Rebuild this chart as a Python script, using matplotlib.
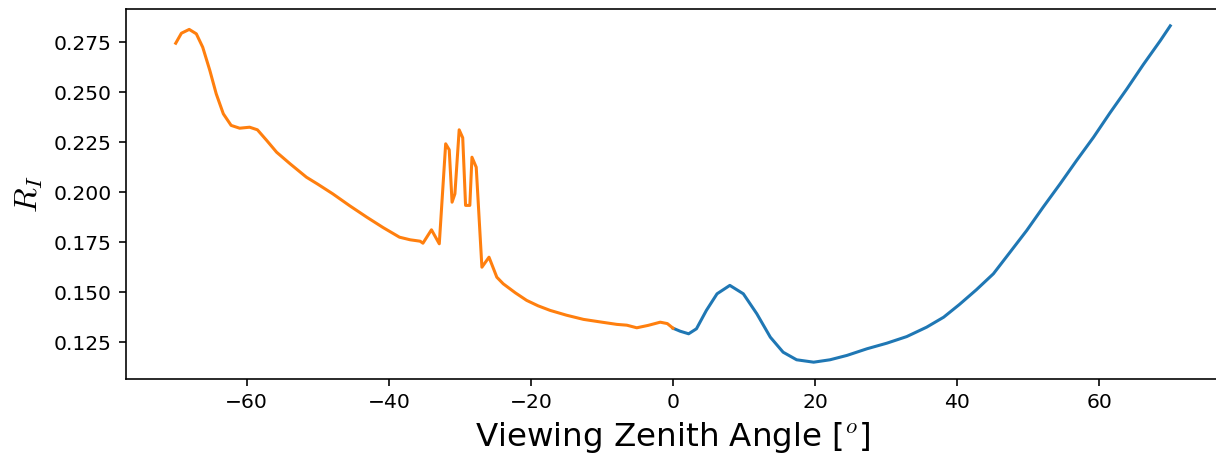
import matplotlib
matplotlib.use('Agg')
from matplotlib import pyplot as plt

# Отрицательные углы (оранжевая кривая)
x_neg = [-70.0, -69.2, -68.1, -67.1, -66.2, -65.2, -64.3, -63.3, -62.2, -61.0, -59.6, -58.5,
         -57.2, -55.8, -53.9, -51.6, -50, -47.9, -45.5, -43.1, -40.8, -38.5, -37,
         -35.6, -35.2, -34.0, -32.9, -32.0, -31.5, -31.1, -30.7, -30.1, -29.6, -29.2, -28.6,
         -28.3, -27.7, -26.9, -25.9, -24.8, -23.9, -22.2, -20.6, -19, -17.3, -15, -12.6,
         -10, -7.9, -6.5, -5.1, -3.5, -1.8, -0.8, 0]
r_neg = [0.2745, 0.2795, 0.2814, 0.2792, 0.2725, 0.2609, 0.2492, 0.2392, 0.2334, 0.2320, 0.2325, 0.2312,
         0.2259, 0.2200, 0.2142, 0.2075, 0.2040, 0.1992, 0.1932, 0.1875, 0.1823, 0.1775, 0.1762,
         0.1755, 0.1745, 0.1812, 0.1742, 0.2242, 0.2212, 0.1950, 0.1992, 0.2312, 0.2272, 0.1934, 0.1934,
         0.2175, 0.2125, 0.1625, 0.1675, 0.1575, 0.1542, 0.1497, 0.1459, 0.1432, 0.1409, 0.1385, 0.1364,
         0.1350, 0.1339, 0.1335, 0.1322, 0.1334, 0.1350, 0.1343, 0.1320]

# Положительные углы (синяя кривая)
x_pos = [0, 1.0, 2.2, 3.3, 4.7, 6.2, 8.0, 9.9, 11.8, 13.7, 15.5, 17.4, 19.8, 22.1, 24.5,
         27.3, 30.1, 32.9, 35.7, 38.1, 40.3, 42.7, 45.1, 47.4, 49.8, 52.1, 54.5, 56.8,
         59.2, 61.5, 63.9, 66.2, 68.6, 70]
r_pos = [0.1320, 0.1305, 0.1292, 0.1317, 0.1409, 0.1492, 0.1534, 0.1492, 0.1392, 0.1275, 0.1200,
         0.1162, 0.1150, 0.1162, 0.1184, 0.1217, 0.1245, 0.1278, 0.1325, 0.1375, 0.1438, 0.1512,
         0.1592, 0.1698, 0.1809, 0.1925, 0.2042, 0.2158, 0.2275, 0.2396, 0.2517, 0.2638, 0.2758,
         0.2832]

plt.rcParams['mathtext.fontset'] = 'cm'

dpi = 146
fig = plt.figure(figsize=(1216 / dpi, 454 / dpi), dpi=dpi)
ax = fig.add_axes([126 / 1216, 75 / 454, 1094 / 1216, 370 / 454])

ax.plot(x_pos, r_pos, color='C0', linewidth=1.5)
ax.plot(x_neg, r_neg, color='C1', linewidth=1.5)

ax.set_xlabel('Viewing Zenith Angle [$^o$]', fontsize=16)
ax.set_ylabel('$R_I$', fontsize=16)
# правая граница осей за пределами картинки
ax.spines['right'].set_visible(False)

fig.savefig('out.png', dpi=dpi)
